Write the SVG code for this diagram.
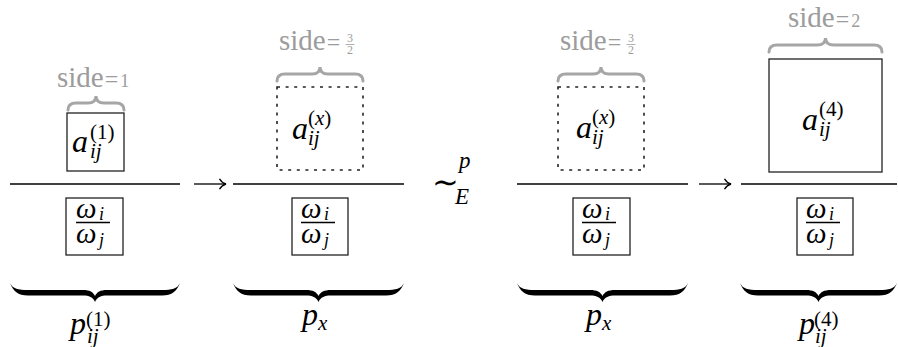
<svg xmlns="http://www.w3.org/2000/svg" width="898" height="347" viewBox="0 0 898 347">
<style>
.ln{stroke:#000;stroke-width:1.3;fill:none}
.box{fill:none;stroke:#222;stroke-width:1.3}
.dot{fill:none;stroke:#222;stroke-width:1.6;stroke-dasharray:3 5.6}
.gb{fill:none;stroke:#a6a6a6;stroke-width:3;stroke-linecap:round}
.bb{fill:#000}
</style>
<defs>
<marker id="ar" viewBox="0 0 8 12" refX="7.5" refY="6" markerWidth="8" markerHeight="12" orient="auto" markerUnits="userSpaceOnUse">
<path d="M1,0.8 Q3.5,5 7.5,6 Q3.5,7 1,11.2" fill="none" stroke="#000" stroke-width="1.3"/>
</marker>
</defs>
<rect width="898" height="347" fill="#fff"/>

<g id="connectors">
<line class="ln" x1="194" y1="184" x2="226" y2="184" marker-end="url(#ar)"/>
<line class="ln" x1="699" y1="184" x2="731" y2="184" marker-end="url(#ar)"/>
</g>

<g id="panel1">
<text font-family="Liberation Serif, serif" fill="#9c9c9c" x="57" y="87"><tspan font-size="29">side</tspan><tspan font-size="24" dx="1">=</tspan><tspan font-size="18" dx="2">1</tspan></text>
<path class="gb" d="M68,110 Q68,103 76,103 L88,103 Q96,103 96,96 Q96,103 104,103 L116,103 Q124,103 124,110"/>
<rect class="box" x="67" y="113" width="57" height="58"/>
<text font-family="Liberation Serif, serif" font-style="italic" font-size="32" x="72" y="152">a</text>
<text font-family="Liberation Serif, serif" font-size="21" x="90" y="139">(1)</text>
<text font-family="Liberation Serif, serif" font-style="italic" font-size="21" x="90" y="158">ij</text>
<line class="ln" x1="10" y1="184" x2="180" y2="184"/>
<rect class="box" x="66" y="198" width="57" height="57"/>
<text font-family="Liberation Serif, serif" font-style="italic" font-size="29" x="76" y="218">ω</text>
<text font-family="Liberation Serif, serif" font-style="italic" font-size="18" x="99" y="220">i</text>
<line class="ln" x1="76" y1="222.5" x2="110" y2="222.5"/>
<text font-family="Liberation Serif, serif" font-style="italic" font-size="29" x="76" y="243">ω</text>
<text font-family="Liberation Serif, serif" font-style="italic" font-size="18" x="99" y="246">j</text>
<path class="bb" d="M10,283 C13,289 18,290 28,290 L83,290 C90,290 93,292 95,296 C97,292 100,290 107,290 L162,290 C172,290 177,289 180,283 C177,291 172,295.5 162,295.5 L107,295.5 C101,295.5 97,297 95,302 C93,297 89,295.5 83,295.5 L28,295.5 C18,295.5 13,291 10,283 Z"/>
<text font-family="Liberation Serif, serif" font-style="italic" font-size="32" x="70" y="334">p</text>
<text font-family="Liberation Serif, serif" font-size="21" x="86" y="326">(1)</text>
<text font-family="Liberation Serif, serif" font-style="italic" font-size="21" x="87" y="343">ij</text>
</g>

<g id="panel2">
<text font-family="Liberation Serif, serif" fill="#9c9c9c" x="279" y="50"><tspan font-size="29">side</tspan><tspan font-size="24" dx="1">=</tspan></text>
<text font-family="Liberation Serif, serif" fill="#9c9c9c" font-size="12" x="350" y="42" text-anchor="middle">3</text>
<line x1="345.5" y1="44.5" x2="354.5" y2="44.5" stroke="#9c9c9c" stroke-width="0.8"/>
<text font-family="Liberation Serif, serif" fill="#9c9c9c" font-size="12" x="350" y="54" text-anchor="middle">2</text>
<path class="gb" d="M277,81 Q277,74 285,74 L312,74 Q320,74 320,67 Q320,74 328,74 L355,74 Q363,74 363,81"/>
<rect class="dot" x="277" y="87" width="86" height="83"/>
<text font-family="Liberation Serif, serif" font-style="italic" font-size="32" x="292" y="139">a</text>
<text font-family="Liberation Serif, serif" font-size="21" x="308" y="125">(<tspan font-style="italic">x</tspan>)</text>
<text font-family="Liberation Serif, serif" font-style="italic" font-size="21" x="308" y="145">ij</text>
<line class="ln" x1="233" y1="184" x2="404" y2="184"/>
<rect class="box" x="292" y="198" width="56" height="57"/>
<text font-family="Liberation Serif, serif" font-style="italic" font-size="29" x="301" y="218">ω</text>
<text font-family="Liberation Serif, serif" font-style="italic" font-size="18" x="324" y="220">i</text>
<line class="ln" x1="301" y1="222.5" x2="335" y2="222.5"/>
<text font-family="Liberation Serif, serif" font-style="italic" font-size="29" x="301" y="243">ω</text>
<text font-family="Liberation Serif, serif" font-style="italic" font-size="18" x="324" y="246">j</text>
<path class="bb" d="M233,283 C236,289 241,290 251,290 L306,290 C313,290 316.5,292 318.5,296 C320.5,292 324,290 331,290 L386,290 C396,290 401,289 404,283 C401,291 396,295.5 386,295.5 L331,295.5 C325,295.5 320.5,297 318.5,302 C316.5,297 312,295.5 306,295.5 L251,295.5 C241,295.5 236,291 233,283 Z"/>
<text font-family="Liberation Serif, serif" font-style="italic" font-size="32" x="302" y="325">p</text>
<text font-family="Liberation Serif, serif" font-style="italic" font-size="21" x="318" y="330">x</text>
</g>

<g id="equiv">
<text font-family="Liberation Serif, serif" x="432" y="193" font-size="32">∼</text>
<text font-family="Liberation Serif, serif" font-style="italic" font-size="23" x="459" y="168">p</text>
<text font-family="Liberation Serif, serif" font-style="italic" font-size="23" x="455" y="204">E</text>
</g>

<g id="panel3">
<text font-family="Liberation Serif, serif" fill="#9c9c9c" x="560" y="50"><tspan font-size="29">side</tspan><tspan font-size="24" dx="1">=</tspan></text>
<text font-family="Liberation Serif, serif" fill="#9c9c9c" font-size="12" x="631" y="42" text-anchor="middle">3</text>
<line x1="626.5" y1="44.5" x2="635.5" y2="44.5" stroke="#9c9c9c" stroke-width="0.8"/>
<text font-family="Liberation Serif, serif" fill="#9c9c9c" font-size="12" x="631" y="54" text-anchor="middle">2</text>
<path class="gb" d="M558,81 Q558,74 566,74 L593,74 Q601,74 601,67 Q601,74 609,74 L636,74 Q644,74 644,81"/>
<rect class="dot" x="558" y="87" width="86" height="83"/>
<text font-family="Liberation Serif, serif" font-style="italic" font-size="32" x="576" y="138">a</text>
<text font-family="Liberation Serif, serif" font-size="21" x="592" y="124">(<tspan font-style="italic">x</tspan>)</text>
<text font-family="Liberation Serif, serif" font-style="italic" font-size="21" x="592" y="144">ij</text>
<line class="ln" x1="517" y1="184" x2="688" y2="184"/>
<rect class="box" x="573" y="198" width="57" height="57"/>
<text font-family="Liberation Serif, serif" font-style="italic" font-size="29" x="582" y="218">ω</text>
<text font-family="Liberation Serif, serif" font-style="italic" font-size="18" x="605" y="220">i</text>
<line class="ln" x1="582" y1="222.5" x2="616" y2="222.5"/>
<text font-family="Liberation Serif, serif" font-style="italic" font-size="29" x="582" y="243">ω</text>
<text font-family="Liberation Serif, serif" font-style="italic" font-size="18" x="605" y="246">j</text>
<path class="bb" d="M517,283 C520,289 525,290 535,290 L590,290 C597,290 600.5,292 602.5,296 C604.5,292 608,290 615,290 L670,290 C680,290 685,289 688,283 C685,291 680,295.5 670,295.5 L615,295.5 C609,295.5 604.5,297 602.5,302 C600.5,297 596,295.5 590,295.5 L535,295.5 C525,295.5 520,291 517,283 Z"/>
<text font-family="Liberation Serif, serif" font-style="italic" font-size="32" x="586" y="325">p</text>
<text font-family="Liberation Serif, serif" font-style="italic" font-size="21" x="602" y="330">x</text>
</g>

<g id="panel4">
<text font-family="Liberation Serif, serif" fill="#9c9c9c" x="788" y="27"><tspan font-size="29">side</tspan><tspan font-size="24" dx="1">=</tspan><tspan font-size="18" dx="2">2</tspan></text>
<path class="gb" d="M769,52 Q769,45 777,45 L817,45 Q825.5,45 825.5,38 Q825.5,45 834,45 L874,45 Q882,45 882,52"/>
<rect class="box" x="769" y="59" width="113" height="113"/>
<text font-family="Liberation Serif, serif" font-style="italic" font-size="32" x="802" y="130">a</text>
<text font-family="Liberation Serif, serif" font-size="21" x="819" y="116">(4)</text>
<text font-family="Liberation Serif, serif" font-style="italic" font-size="21" x="819" y="136">ij</text>
<line class="ln" x1="741" y1="184" x2="897" y2="184"/>
<rect class="box" x="797" y="198" width="56" height="57"/>
<text font-family="Liberation Serif, serif" font-style="italic" font-size="29" x="806" y="218">ω</text>
<text font-family="Liberation Serif, serif" font-style="italic" font-size="18" x="829" y="220">i</text>
<line class="ln" x1="806" y1="222.5" x2="840" y2="222.5"/>
<text font-family="Liberation Serif, serif" font-style="italic" font-size="29" x="806" y="243">ω</text>
<text font-family="Liberation Serif, serif" font-style="italic" font-size="18" x="829" y="246">j</text>
<path class="bb" d="M740,283 C743,289 748,290 758,290 L806,290 C813,290 816.5,292 818.5,296 C820.5,292 824,290 831,290 L879,290 C889,290 894,289 897,283 C894,291 889,295.5 879,295.5 L831,295.5 C825,295.5 820.5,297 818.5,302 C816.5,297 812,295.5 806,295.5 L758,295.5 C748,295.5 743,291 740,283 Z"/>
<text font-family="Liberation Serif, serif" font-style="italic" font-size="32" x="799" y="334">p</text>
<text font-family="Liberation Serif, serif" font-size="21" x="814" y="326">(4)</text>
<text font-family="Liberation Serif, serif" font-style="italic" font-size="21" x="815" y="343">ij</text>
</g>
</svg>
